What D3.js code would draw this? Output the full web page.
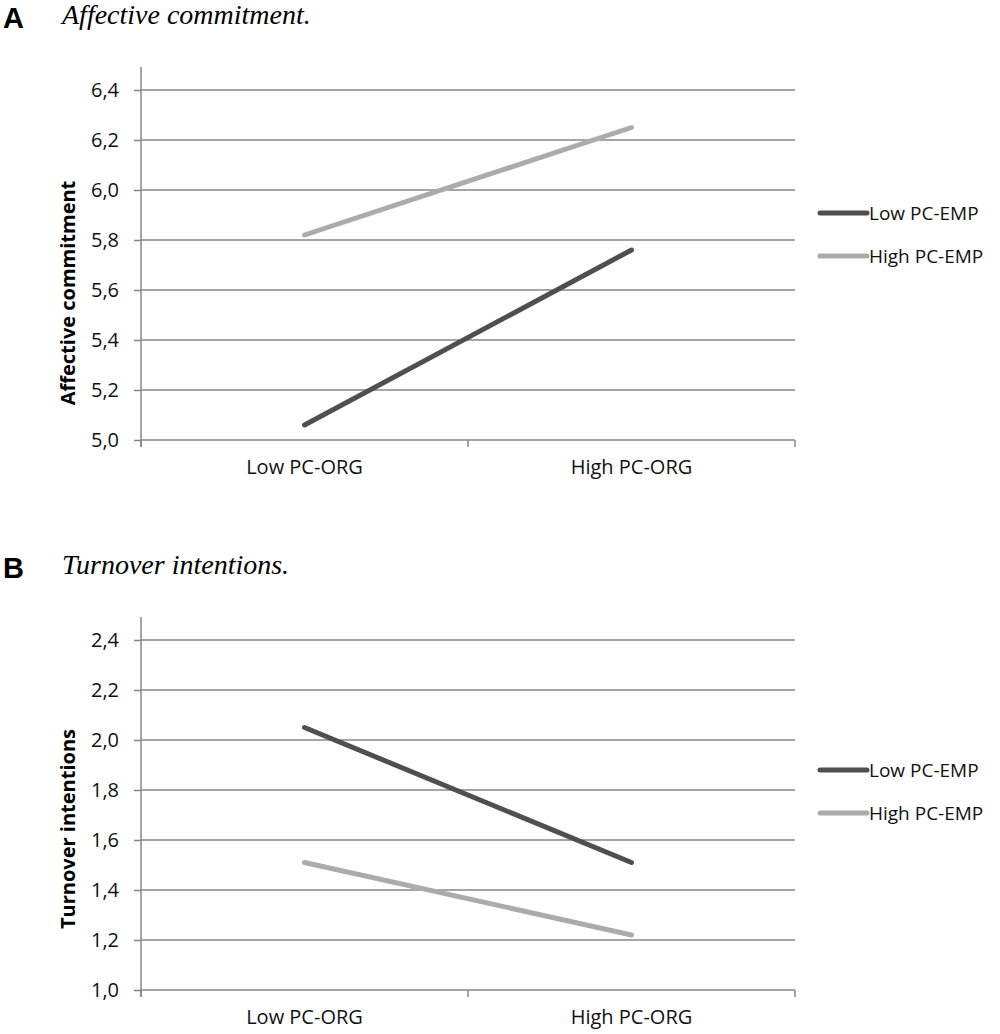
<!DOCTYPE html>
<html>
<head>
<meta charset="utf-8">
<script src="https://cdn.jsdelivr.net/npm/d3@7"></script>
<style>
  body { margin: 0; background: #fff; }
  svg text { font-family: "Open Sans", "Liberation Sans", sans-serif; }
</style>
</head>
<body>
<div id="chart"></div>
<script>
/** Chart data */
const categories = ["Low PC-ORG", "High PC-ORG"];
const seriesNames = ["Low PC-EMP", "High PC-EMP"];

const commitmentLow = [5.06, 5.76];
const commitmentHigh = [5.82, 6.25];
const commitmentTicks = [5.0, 5.2, 5.4, 5.6, 5.8, 6.0, 6.2, 6.4];

const turnoverLow = [2.05, 1.51];
const turnoverHigh = [1.51, 1.22];
const turnoverTicks = [1.0, 1.2, 1.4, 1.6, 1.8, 2.0, 2.2, 2.4];

/** Layout */
const width = 1000;
const height = 1034;
const left = 141;
const right = 795;
const colors = ["#4f4f4f", "#ababab"];

const svg = d3
  .select("#chart")
  .append("svg")
  .attr("width", width)
  .attr("height", height);

const fmt = (d) => d.toFixed(1).replace(".", ",");

const drawPanel = (cfg) => {
  const g = svg.append("g").attr("transform", `translate(0, ${cfg.offset})`);

  /** Panel letter and title */
  g.append("text")
    .attr("x", 3)
    .attr("y", 28)
    .style("font-family", "Liberation Sans, Arial, sans-serif")
    .style("font-weight", "bold")
    .style("font-size", "29px")
    .text(cfg.letter);
  g.append("text")
    .attr("x", 62)
    .attr("y", 24)
    .style("font-family", "Liberation Serif, Times New Roman, serif")
    .style("font-style", "italic")
    .style("font-size", "28px")
    .text(cfg.title);

  const x = d3.scaleBand().domain(categories).range([left, right]);
  const y = d3
    .scaleLinear()
    .domain([cfg.ticks[0], cfg.ticks[cfg.ticks.length - 1]])
    .range([440, 90]);

  /** Grid lines */
  g.selectAll("line.grid")
    .data(cfg.ticks.slice(1))
    .enter()
    .append("line")
    .attr("x1", left)
    .attr("x2", right)
    .attr("y1", (d) => y(d))
    .attr("y2", (d) => y(d))
    .style("stroke", "#878787")
    .style("stroke-width", 1.5);

  /** Y axis */
  const yAxis = g
    .append("g")
    .attr("transform", `translate(${left}, 0)`)
    .call(d3.axisLeft(y).tickValues(cfg.ticks).tickFormat(fmt).tickSize(7).tickPadding(15));
  yAxis.select(".domain").attr("d", `M0,${y.range()[1] - 23}V${y.range()[0] + 7}`);

  /** X axis */
  const xAxis = g
    .append("g")
    .attr("transform", `translate(0, ${y.range()[0]})`)
    .call(d3.axisBottom(x).tickSize(0).tickPadding(20));
  xAxis.select(".domain").attr("d", `M${left},0H${right}`);
  xAxis
    .selectAll("line.sep")
    .data([left, (left + right) / 2, right])
    .enter()
    .append("line")
    .attr("class", "sep")
    .attr("x1", (d) => d)
    .attr("x2", (d) => d)
    .attr("y1", 0)
    .attr("y2", 7);

  [yAxis, xAxis].forEach((a) => {
    a.selectAll("path, line").style("stroke", "#878787").style("stroke-width", 1.5);
    a.selectAll("text").style("font-size", "20px").style("fill", "#111");
  });

  /** Y axis title */
  g.append("text")
    .attr("transform", `translate(75, ${(y.range()[0] + y.range()[1]) / 2 + cfg.labelShift}) rotate(-90)`)
    .attr("text-anchor", "middle")
    .style("font-weight", "bold")
    .style("font-size", "20px")
    .text(cfg.yLabel);

  /** Series lines */
  const line = d3
    .line()
    .x((_, i) => x(categories[i]) + x.bandwidth() / 2)
    .y((d) => y(d));

  cfg.series.forEach((vals, i) => {
    g.append("path")
      .attr("d", line(vals))
      .style("fill", "none")
      .style("stroke", colors[i])
      .style("stroke-width", 5)
      .style("stroke-linecap", "round");
  });

  /** Legend */
  seriesNames.forEach((name, i) => {
    const ly = cfg.legendY + i * 43;
    g.append("line")
      .attr("x1", 820)
      .attr("x2", 867)
      .attr("y1", ly)
      .attr("y2", ly)
      .style("stroke", colors[i])
      .style("stroke-width", 5)
      .style("stroke-linecap", "round");
    g.append("text")
      .attr("x", 869)
      .attr("y", ly)
      .attr("dy", "0.35em")
      .style("font-size", "19px")
      .style("fill", "#111")
      .text(name);
  });
};

drawPanel({
  offset: 0,
  letter: "A",
  title: "Affective commitment.",
  yLabel: "Affective commitment",
  labelShift: 28,
  ticks: commitmentTicks,
  series: [commitmentLow, commitmentHigh],
  legendY: 213,
});

drawPanel({
  offset: 550,
  letter: "B",
  title: "Turnover intentions.",
  yLabel: "Turnover intentions",
  labelShift: 14,
  ticks: turnoverTicks,
  series: [turnoverLow, turnoverHigh],
  legendY: 220,
});
</script>
</body>
</html>
